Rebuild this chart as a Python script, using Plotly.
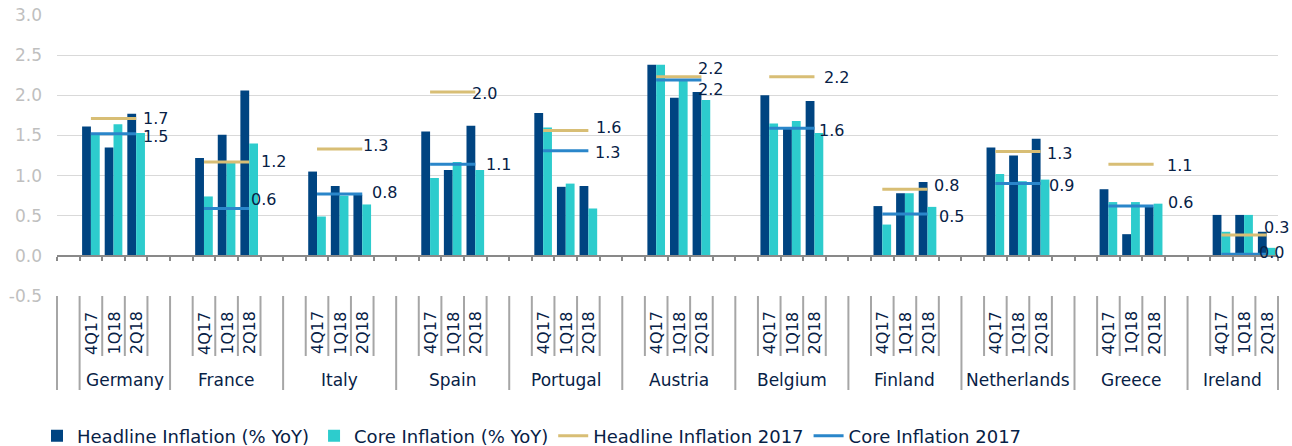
import plotly.graph_objects as go

# ---------------- data ----------------
countries = ["Germany", "France", "Italy", "Spain", "Portugal", "Austria",
             "Belgium", "Finland", "Netherlands", "Greece", "Ireland"]
quarters = ["4Q17", "1Q18", "2Q18"]

# Headline inflation (% YoY) per country: 4Q17, 1Q18, 2Q18
headline_yoy = [
    [1.61, 1.35, 1.77],
    [1.22, 1.51, 2.06],
    [1.05, 0.87, 0.76],
    [1.55, 1.07, 1.62],
    [1.78, 0.86, 0.87],
    [2.38, 1.97, 2.04],
    [2.00, 1.59, 1.93],
    [0.62, 0.78, 0.92],
    [1.35, 1.25, 1.46],
    [0.83, 0.27, 0.61],
    [0.51, 0.51, 0.30],
]
# Core inflation (% YoY) per country: 4Q17, 1Q18, 2Q18
core_yoy = [
    [1.53, 1.64, 1.53],
    [0.74, 1.16, 1.40],
    [0.49, 0.75, 0.64],
    [0.97, 1.17, 1.07],
    [1.60, 0.90, 0.59],
    [2.38, 2.19, 1.94],
    [1.65, 1.68, 1.53],
    [0.39, 0.78, 0.61],
    [1.02, 0.93, 0.95],
    [0.67, 0.67, 0.65],
    [0.30, 0.51, 0.10],
]
headline_2017 = [1.71, 1.17, 1.33, 2.04, 1.56, 2.23, 2.23, 0.83, 1.30, 1.14, 0.26]
core_2017 = [1.52, 0.59, 0.77, 1.14, 1.31, 2.19, 1.59, 0.52, 0.90, 0.62, 0.02]
y_ticks = [-0.5, 0.0, 0.5, 1.0, 1.5, 2.0, 2.5, 3.0]

# ---------------- styling ----------------
NAVY = "#004481"
AQUA = "#2DCCCD"
SAND = "#D8BE75"
BLUE = "#2A86CA"
TEXT = "#072146"
FONT = "DejaVu Sans"

# label pixel offsets (x from the last point, y upward) – placement only
headline_lbl_shift = {"Germany": (5, 0), "France": (10, 0), "Italy": (-1, 4),
                      "Spain": (-5, -1), "Portugal": (6, 3), "Austria": (-5, 8),
                      "Belgium": (8, -1), "Finland": (4, 4), "Netherlands": (4, -2),
                      "Greece": (11, -1), "Ireland": (-5, 7)}
core_lbl_shift = {"Germany": (5, -3), "France": (0, 9), "Italy": (8, 2),
                  "Spain": (9, 0), "Portugal": (5, -2), "Austria": (-5, -9),
                  "Belgium": (3, -2), "Finland": (9, -2), "Netherlands": (6, -2),
                  "Greece": (12, 4), "Ireland": (-10, 2)}

# ---------------- category slots (Excel multi-level axis) ----------------
slots = [(None, None)]
for i, c in enumerate(countries):
    if i > 0:
        slots.append((c, None))
    for q in quarters:
        slots.append((c, q))
    if i < len(countries) - 1:
        slots.append((c, None))
n = len(slots)
xs = list(range(1, n + 1))


def series(values2d):
    out = []
    for c, q in slots:
        if q is None:
            out.append(None)
        else:
            out.append(values2d[countries.index(c)][quarters.index(q)])
    return out


def flat_series(values1d):
    out = []
    for c, q in slots:
        out.append(None if q is None else values1d[countries.index(c)])
    return out


fig = go.Figure()
fig.add_bar(x=xs, y=series(headline_yoy), name="Headline Inflation (% YoY)",
            marker=dict(color=NAVY, line=dict(width=0)))
fig.add_bar(x=xs, y=series(core_yoy), name="Core Inflation (% YoY)",
            marker=dict(color=AQUA, line=dict(width=0)))

fig.add_scatter(x=xs, y=flat_series(headline_2017), mode="lines",
                name="Headline Inflation 2017", line=dict(color=SAND, width=3),
                connectgaps=False)
fig.add_scatter(x=xs, y=flat_series(core_2017), mode="lines",
                name="Core Inflation 2017", line=dict(color=BLUE, width=3),
                connectgaps=False)

# ---------------- layout geometry ----------------
L, R, T, B = 57, 14, 15, 150
W, H = 1292, 446
plot_h = H - T - B
plot_w = W - L - R
shapes, annotations = [], []

# data labels on the last point of each 2017 segment
for vals, shifts in ((headline_2017, headline_lbl_shift), (core_2017, core_lbl_shift)):
    for x, (c, q) in zip(xs, slots):
        if q == quarters[-1]:
            v = vals[countries.index(c)]
            dx, dy = shifts.get(c, (5, 0))
            annotations.append(dict(x=x, y=v, xref="x", yref="y", text=f"{v:.1f}",
                                    showarrow=False, xanchor="left", yanchor="middle",
                                    xshift=dx, yshift=dy,
                                    font=dict(family=FONT, size=16, color=TEXT)))


def xpaper(b):
    return (b - 0.5) / n


inner_depth = -60 / plot_h
outer_depth = -94 / plot_h
for k in range(n + 1):
    b = 0.5 + k
    left = slots[k - 1][0] if k > 0 else "__edge"
    right = slots[k][0] if k < n else "__edge"
    depth = outer_depth if left != right else inner_depth
    shapes.append(dict(type="line", xref="paper", yref="paper",
                       x0=xpaper(b), x1=xpaper(b), y0=0, y1=depth,
                       line=dict(color="#A6A6A6", width=2)))

for x, (c, q) in zip(xs, slots):
    if q is not None:
        annotations.append(dict(x=x, y=-37 / plot_h, xref="x", yref="paper",
                                text=q, textangle=-90, showarrow=False,
                                xanchor="center", yanchor="middle",
                                font=dict(family=FONT, size=16, color=TEXT)))
for c in countries:
    members = [x for x, s in zip(xs, slots) if s[0] == c]
    annotations.append(dict(x=(min(members) + max(members)) / 2, y=-84 / plot_h,
                            xref="x", yref="paper", text=c, showarrow=False,
                            xanchor="center", yanchor="middle",
                            font=dict(family=FONT, size=17, color=TEXT)))

fig.update_layout(
    width=W, height=H,
    margin=dict(l=L, r=R, t=T, b=B, autoexpand=False),
    paper_bgcolor="white", plot_bgcolor="white",
    barmode="group", bargap=0.22, bargroupgap=0,
    showlegend=True,
    legend=dict(orientation="h", x=(37 - L) / plot_w, y=(296 - 436) / plot_h,
                xanchor="left", yanchor="middle",
                font=dict(family=FONT, size=18, color=TEXT),
                bgcolor="rgba(0,0,0,0)"),
    shapes=shapes, annotations=annotations,
    font=dict(family=FONT, color=TEXT),
)
fig.update_xaxes(range=[0.5, n + 0.5], anchor="free", position=0.5 / 3.5,
                 showline=True, linecolor="#898989", linewidth=2,
                 ticks="outside", ticklen=4, tickwidth=2, tickcolor="#898989",
                 tickvals=[0.5 + k for k in range(n + 1)], showticklabels=False,
                 showgrid=False, zeroline=False, fixedrange=True, automargin=False)
fig.update_yaxes(range=[-0.5, 3.0], tickvals=y_ticks,
                 ticktext=[f"{v:.1f}" for v in y_ticks],
                 showgrid=True, gridcolor="#D9D9D9", gridwidth=1,
                 zeroline=False, showline=False, ticks="",
                 ticklabelstandoff=14, automargin=False,
                 tickfont=dict(family=FONT, size=17, color="#BFBFBF"),
                 fixedrange=True)

fig.write_html("out.html", config={"displayModeBar": False},
               post_script="document.body.style.margin='0';")
